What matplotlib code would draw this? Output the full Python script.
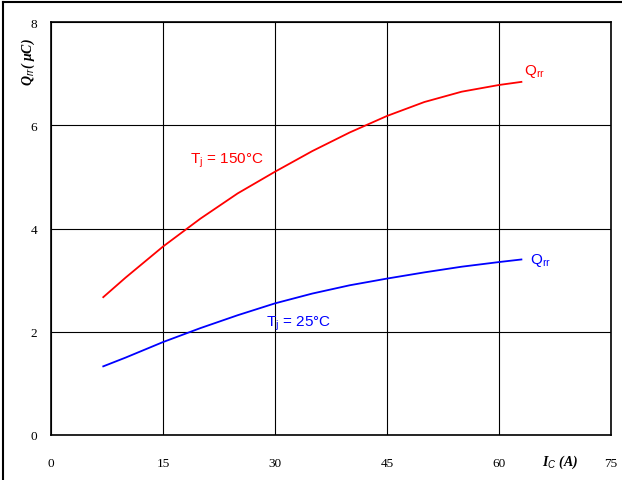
import matplotlib
matplotlib.use("Agg")
import matplotlib.pyplot as plt
from matplotlib.lines import Line2D

# Recovered charge vs collector current
ic = [7, 10, 15, 20, 25, 30, 35, 40, 45, 50, 55, 60, 63]
qrr_150 = [2.67, 3.05, 3.65, 4.19, 4.68, 5.10, 5.50, 5.86, 6.18, 6.45, 6.65, 6.78, 6.84]
qrr_25 = [1.33, 1.50, 1.80, 2.07, 2.32, 2.55, 2.74, 2.90, 3.03, 3.15, 3.26, 3.35, 3.40]

x_ticks = [0, 15, 30, 45, 60, 75]
y_ticks = [0, 2, 4, 6, 8]

plt.rcParams["mathtext.fontset"] = "custom"
plt.rcParams["mathtext.rm"] = "Liberation Sans"
plt.rcParams["mathtext.it"] = "Liberation Sans:italic"

fig = plt.figure(figsize=(6.22, 4.81), dpi=100)
ax = fig.add_axes([51 / 622, 45 / 481, 560 / 622, 413 / 481])

ax.plot(ic, qrr_150, color="#ff0000", lw=1.3)
ax.plot(ic, qrr_25, color="#0000ff", lw=1.3)

ax.set_xlim(0, 75)
ax.set_ylim(0, 8)
ax.set_xticks(x_ticks)
ax.set_yticks(y_ticks)
ax.grid(True, color="black", lw=0.8)
ax.tick_params(length=0, labelsize=9.5, pad=10)
ax.tick_params(axis="x", pad=16)
for lbl in ax.get_xticklabels() + ax.get_yticklabels():
    lbl.set_family("Liberation Serif")
for s in ax.spines.values():
    s.set_linewidth(1.2)

sans = ["Liberation Sans", "DejaVu Sans"]
ax.text(18.6, 5.33, "T$_\\mathrm{j}$ = 150\u00b0C", color="#ff0000", fontsize=11,
        family=sans, va="center")
ax.text(28.8, 2.18, "T$_\\mathrm{j}$ = 25\u00b0C", color="#0000ff", fontsize=11,
        family=sans, va="center")
ax.text(63.3, 7.07, "Q$_\\mathrm{rr}$", color="#ff0000", fontsize=11, family=sans,
        va="center")
ax.text(64.1, 3.4, "Q$_\\mathrm{rr}$", color="#0000ff", fontsize=11, family=sans,
        va="center")

fig.text(28 / 622, 1 - 62 / 481, "Q$_{rr}$( \u03bcC)", rotation=90, ha="center",
         va="center", fontsize=10, family="Liberation Serif", style="italic",
         weight="bold")
fig.text(560 / 622, 1 - 462 / 481, "I$_C$ (A)", ha="center", va="center",
         fontsize=10, family="Liberation Serif", style="italic", weight="bold")

# outer frame (top and left edges are visible in the reference)
fig.add_artist(Line2D([3 / 622, 3 / 622], [0, 1 - 3 / 481], color="black", lw=1.5,
                      transform=fig.transFigure))
fig.add_artist(Line2D([3 / 622, 1], [1 - 3 / 481, 1 - 3 / 481], color="black", lw=1.5,
                      transform=fig.transFigure))

fig.savefig("out.png", dpi=100)
